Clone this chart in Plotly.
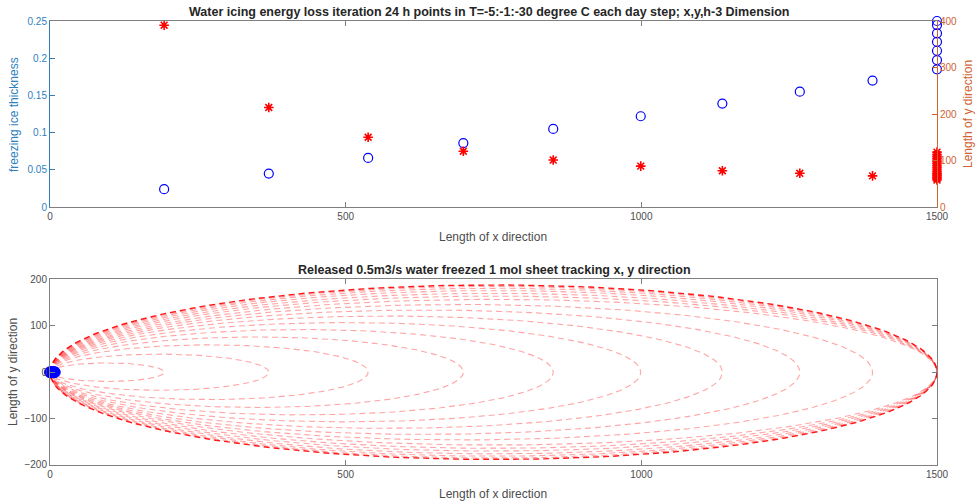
import numpy as np
import plotly.graph_objects as go

# ---------------- data ----------------
# top panel: blue circles -> freezing ice thickness (left axis)
circle_x = [193, 370, 538, 699, 851, 999, 1137, 1268, 1391,
            1500, 1500, 1500, 1500, 1500, 1500, 1500]
thickness = [0.024, 0.045, 0.066, 0.086, 0.105, 0.122, 0.139, 0.155, 0.170,
             0.185, 0.1975, 0.210, 0.222, 0.2335, 0.2446, 0.250]
# top panel: red asterisks -> length of y direction (right axis)
star_x = [193, 370, 538, 699, 851, 999, 1137, 1268, 1391] + [1500] * 17
y_length = [391, 214, 150, 120, 101, 88, 78, 72.5, 67,
            58, 61, 64, 67, 70, 73, 77, 81, 85, 89, 93, 97, 101, 105, 109, 113, 118]

# bottom panel: ellipse tracks (right end in x, half width in y)
ellipse_xr = [193, 370, 538, 699, 851, 999, 1137, 1268, 1391,
              1500, 1500, 1500, 1500, 1500, 1500, 1500]
ellipse_b = [20, 39, 59, 76, 92, 107, 121, 134, 146,
             157, 164, 170, 176, 181, 185, 188]
origin_x = [0, 2, 4, 6, 8]
origin_y = [0, 0, 0, 0, 0]

x_ticks = [0, 500, 1000, 1500]
thick_ticks = [0, 0.05, 0.1, 0.15, 0.2, 0.25]
thick_labels = ["0", "0.05", "0.1", "0.15", "0.2", "0.25"]
ylen_ticks = [0, 100, 200, 300, 400]
ytrack_ticks = [-200, -100, 0, 100, 200]

# ---------------- styling ----------------
FONT = "Liberation Sans, Arial, sans-serif"
GRAY = "#7f7f7f"
TXT = "#4d4d4d"
LEFT = "#2f7fbd"
RIGHT = "#cf6432"

fig = go.Figure()

fig.add_trace(go.Scatter(x=circle_x, y=thickness, mode="markers",
                         marker=dict(symbol="circle-open", size=9, color="#0000ff",
                                     line=dict(width=1.2, color="#0000ff")),
                         xaxis="x", yaxis="y", cliponaxis=False, showlegend=False))
fig.add_trace(go.Scatter(x=star_x, y=y_length, mode="markers",
                         marker=dict(symbol="asterisk-open", size=8, color="#ff0000",
                                     line=dict(width=1.6, color="#ff0000")),
                         xaxis="x", yaxis="y2", cliponaxis=False, showlegend=False))

t = np.linspace(0, 2 * np.pi, 240)
n = len(ellipse_xr)
for i, (xr, b) in enumerate(zip(ellipse_xr, ellipse_b)):
    ex = xr / 2.0 * (1 - np.cos(t))
    ey = b * np.sin(t)
    outer = (i == n - 1)
    fig.add_trace(go.Scatter(x=ex, y=ey, mode="lines",
                             line=dict(color="rgba(255,0,0,0.9)" if outer else "rgba(255,40,40,0.42)",
                                       width=1.4 if outer else 1.1, dash="6px,4px"),
                             xaxis="x2", yaxis="y3", showlegend=False, hoverinfo="skip"))

fig.add_trace(go.Scatter(x=origin_x, y=origin_y, mode="markers",
                         marker=dict(symbol="circle", size=11, color="#0000ff",
                                     line=dict(width=1, color="#0000ff")),
                         xaxis="x2", yaxis="y3", cliponaxis=False, showlegend=False))

axis_common = dict(showgrid=False, zeroline=False, ticks="inside", ticklen=5,
                   showline=True, linewidth=1, automargin=False,
                   tickfont=dict(family=FONT, size=10, color=TXT))

top_dom = [0.581, 1.0]
bot_dom = [0.0, 0.418]

fig.update_layout(
    width=979, height=504,
    margin=dict(l=50, r=42, t=21, b=39),
    paper_bgcolor="white", plot_bgcolor="white",
    font=dict(family=FONT, size=10, color=TXT),
    xaxis=dict(axis_common, domain=[0, 1], range=[0, 1500], anchor="y",
               tickvals=x_ticks, linecolor=GRAY, tickcolor=GRAY, mirror="ticks"),
    yaxis=dict(axis_common, domain=top_dom, range=[0, 0.25], anchor="x",
               tickvals=thick_ticks, ticktext=thick_labels,
               linecolor=LEFT, tickcolor=LEFT, tickfont=dict(family=FONT, size=10, color=LEFT)),
    yaxis2=dict(axis_common, overlaying="y", side="right", range=[0, 400], anchor="x",
                tickvals=ylen_ticks, linecolor=RIGHT, tickcolor=RIGHT,
                tickfont=dict(family=FONT, size=10, color=RIGHT)),
    xaxis2=dict(axis_common, domain=[0, 1], range=[0, 1500], anchor="y3",
                tickvals=x_ticks, linecolor=GRAY, tickcolor=GRAY, mirror="ticks"),
    yaxis3=dict(axis_common, domain=bot_dom, range=[-200, 200], anchor="x2",
                tickvals=ytrack_ticks, linecolor=GRAY, tickcolor=GRAY, mirror="ticks"),
)

def px(xp):
    return (xp - 50) / 887.0

def py(yp):
    return (465 - yp) / 444.0

TITLE_FONT = dict(size=12.5, color="#262626", family=FONT, weight="bold")
ann = []
ann.append(dict(text="Water icing energy loss iteration 24 h points in T=-5:-1:-30 degree C each day step; x,y,h-3 Dimension",
                x=px(489), y=py(12), font=TITLE_FONT))
ann.append(dict(text="Released 0.5m3/s water freezed 1 mol sheet tracking x, y direction",
                x=px(494), y=py(270), font=TITLE_FONT))
ann.append(dict(text="Length of x direction", x=px(493), y=py(237),
                font=dict(size=12, color=TXT, family=FONT)))
ann.append(dict(text="Length of x direction", x=px(493), y=py(494),
                font=dict(size=12, color=TXT, family=FONT)))
ann.append(dict(text="freezing ice thickness", x=px(14), y=py(115), textangle=-90,
                font=dict(size=12, color=LEFT, family=FONT)))
ann.append(dict(text="Length of y direction", x=px(13), y=py(372), textangle=-90,
                font=dict(size=12, color=TXT, family=FONT)))
ann.append(dict(text="Length of y direction", x=px(968), y=py(114), textangle=-90,
                font=dict(size=12, color=RIGHT, family=FONT)))
for a in ann:
    a.update(xref="paper", yref="paper", showarrow=False, xanchor="center", yanchor="middle")
fig.update_layout(annotations=ann)

fig.write_html("out.html", config={"displayModeBar": False},
               post_script="document.body.style.margin='0';document.body.style.overflow='hidden';")
